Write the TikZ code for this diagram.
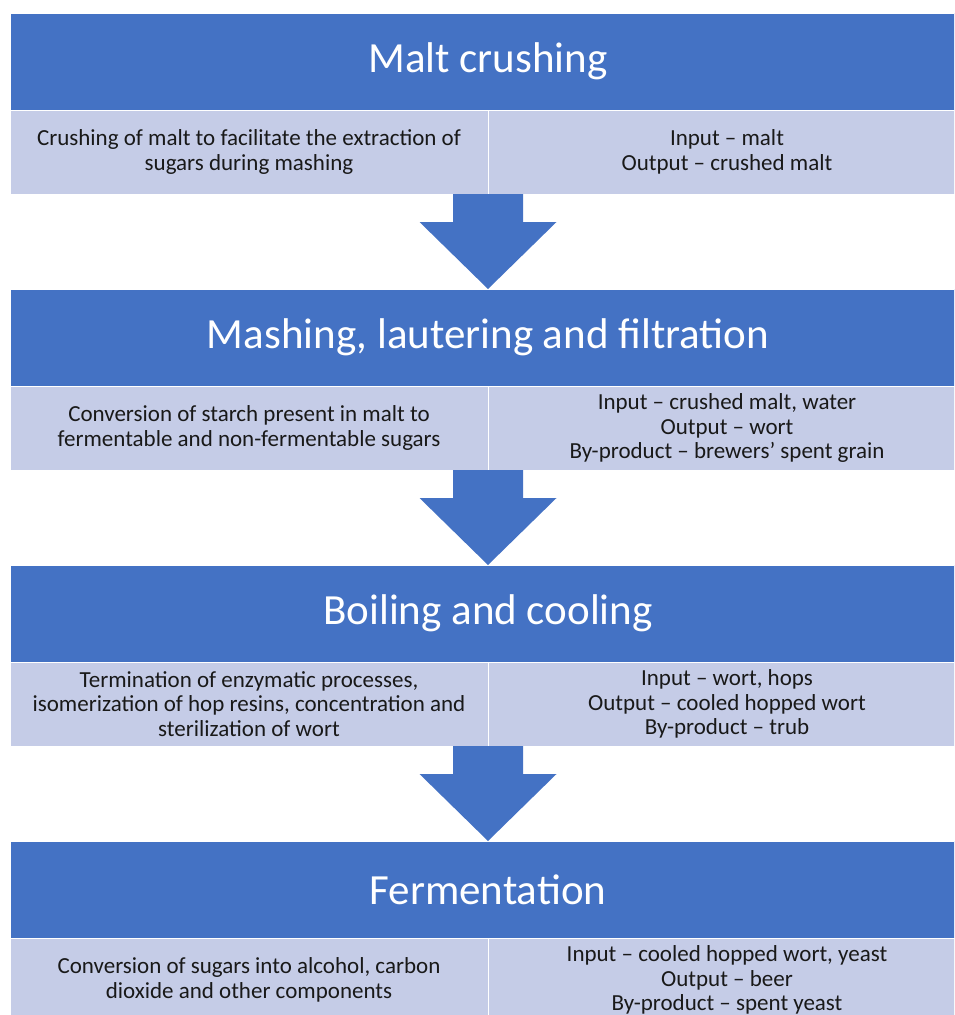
\documentclass[tikz,border=0pt]{standalone}
\usepackage{fontspec}
\setmainfont{Carlito}
\usepackage{tikz}
\usepackage{xcolor}
\usetikzlibrary{positioning,calc}
\definecolor{headblue}{HTML}{4472C4}
\definecolor{celllilac}{HTML}{C5CCE7}

\begin{document}
\begin{tikzpicture}[
        node distance=0pt and 0pt,
        stagehead/.style={fill=headblue, draw=white, line width=0.8pt, outer sep=0pt, text=white,
            minimum width=956pt, minimum height=97pt, inner sep=0pt,
            font=\fontsize{43}{50}\selectfont},
        stagecell/.style={fill=celllilac, draw=white, line width=0.8pt, outer sep=0pt, text=black!90,
            minimum width=478pt, minimum height=84pt, inner sep=0pt, align=center,
            font=\fontsize{23}{24.5}\selectfont},
        flowarrow/.style={fill=headblue},
    ]
    \useasboundingbox (0,0) rectangle (954pt,-1015pt);
    \clip (0,0) rectangle (954pt,-1015pt);

    % stage 1
    \node[stagehead, anchor=north west] (h1) at (10pt,-13pt) {Malt crushing};
    \node[stagecell, below right=of h1.south west] (d1) {Crushing of malt to facilitate the extraction of\\sugars during mashing};
    \node[stagecell, below left=of h1.south east] (o1) {Input -- malt\\Output -- crushed malt};

    % stage 2
    \node[stagehead, below=95pt of d1.south east] (h2) {Mashing, lautering and filtration};
    \node[stagecell, below right=of h2.south west] (d2) {Conversion of starch present in malt to\\fermentable and non-fermentable sugars};
    \node[stagecell, below left=of h2.south east] (o2) {Input -- crushed malt, water\\Output -- wort\\By-product -- brewers’ spent grain};

    % stage 3
    \node[stagehead, below=95pt of d2.south east] (h3) {Boiling and cooling};
    \node[stagecell, below right=of h3.south west] (d3) {Termination of enzymatic processes,\\isomerization of hop resins, concentration and\\sterilization of wort};
    \node[stagecell, below left=of h3.south east] (o3) {Input -- wort, hops\\Output -- cooled hopped wort\\By-product -- trub};

    % stage 4
    \node[stagehead, below=95pt of d3.south east] (h4) {Fermentation};
    \node[stagecell, below right=of h4.south west] (d4) {Conversion of sugars into alcohol, carbon\\dioxide and other components};
    \node[stagecell, below left=of h4.south east] (o4) {Input -- cooled hopped wort, yeast\\Output -- beer\\By-product -- spent yeast};

    % block arrows
    \foreach \from/\to in {d1/h2, d2/h3, d3/h4}
        \fill[flowarrow] ($(\from.south east)+(-35pt,0)$) -- ++(70pt,0) -- ++(0,-28pt)
            -- ++(33.5pt,0) -- (\to.north) -- ++(-68.5pt,67pt) -- ++(33.5pt,0) -- cycle;
\end{tikzpicture}
\end{document}
